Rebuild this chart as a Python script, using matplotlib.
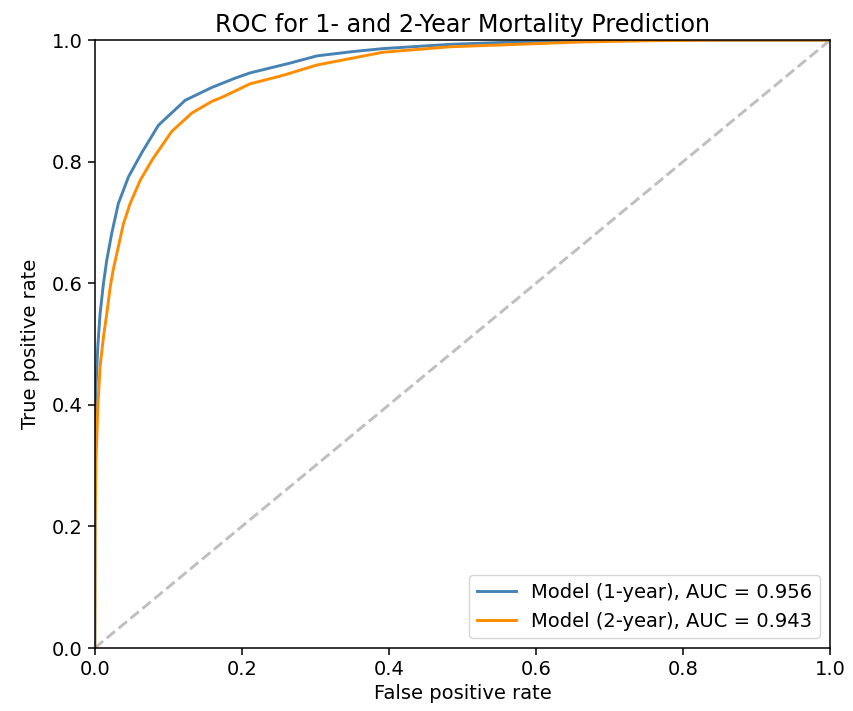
import matplotlib
matplotlib.use("Agg")
import matplotlib.pyplot as plt

# ROC curve points
fpr_1y = [0.0, 0.0003, 0.0007, 0.0014, 0.0041, 0.0072, 0.0118, 0.0163, 0.023, 0.032,
          0.0458, 0.064, 0.0866, 0.123, 0.159, 0.19, 0.211, 0.265, 0.302, 0.35, 0.392,
          0.483, 0.574, 0.665, 0.8, 1.0]
tpr_1y = [0.0, 0.2, 0.33, 0.424, 0.496, 0.55, 0.600, 0.638, 0.682, 0.731,
          0.775, 0.815, 0.860, 0.901, 0.922, 0.937, 0.946, 0.962, 0.974, 0.981, 0.986,
          0.993, 0.997, 0.999, 1.0, 1.0]

fpr_2y = [0.0, 0.0004, 0.0014, 0.0041, 0.0072, 0.0118, 0.0163, 0.021, 0.025, 0.032,
          0.039, 0.048, 0.062, 0.078, 0.1048, 0.132, 0.159, 0.175, 0.211, 0.256, 0.302,
          0.392, 0.483, 0.574, 0.664, 0.755, 0.85, 1.0]
tpr_2y = [0.0, 0.2, 0.30, 0.397, 0.463, 0.512, 0.55, 0.594, 0.622, 0.660,
          0.698, 0.731, 0.770, 0.803, 0.850, 0.880, 0.899, 0.907, 0.928, 0.942, 0.959,
          0.980, 0.989, 0.993, 0.997, 0.999, 1.0, 1.0]

labels = ["Model (1-year), AUC = 0.956", "Model (2-year), AUC = 0.943"]

fig = plt.figure(figsize=(8.54, 7.11), dpi=100)
ax = fig.add_axes([0.111, 0.0886, 0.861, 0.855])
ax.plot([0, 1], [0, 1], linestyle="--", color="gray", alpha=0.5, lw=2.1)
ax.plot(fpr_1y, tpr_1y, color="#4682b4", lw=2.1, label=labels[0])
ax.plot(fpr_2y, tpr_2y, color="#ff8c00", lw=2.1, label=labels[1])
ax.set_xlim(0, 1)
ax.set_ylim(0, 1)
ax.set_xlabel("False positive rate", fontsize=14)
ax.set_ylabel("True positive rate", fontsize=14, labelpad=9)
ax.set_title("ROC for 1- and 2-Year Mortality Prediction", fontsize=17.2)
ax.tick_params(labelsize=14, length=5, width=1.1)
for s in ax.spines.values():
    s.set_linewidth(1.1)
ax.legend(loc="lower right", fontsize=14)
fig.savefig("out.png", dpi=100)
